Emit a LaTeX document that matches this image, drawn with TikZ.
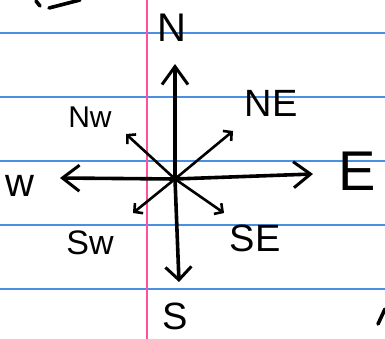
\documentclass[tikz,border=0pt]{standalone}
\usepackage{fontspec}
\setmainfont{Liberation Sans}
\usetikzlibrary{arrows.meta}
\definecolor{ruleblue}{RGB}{74,144,226}
\definecolor{marginpink}{RGB}{255,79,160}
\tikzset{
  ruling/.style={ruleblue, line width=1.3pt},
  margin/.style={marginpink, line width=1.5pt},
  ink/.style={black, line width=3.6pt, line cap=round, line join=round},
  thinink/.style={black, line width=2.6pt, line cap=round, line join=round},
  bighead/.style={-{Straight Barb[length=#1, width=26pt, line width=3pt]}},
  smallhead/.style={-{Straight Barb[length=6pt, width=13pt, line width=2.6pt]}},
  lbl/.style={inner sep=0pt, font=\fontsize{#1}{#1}\selectfont}
}
\begin{document}
\begin{tikzpicture}[x=1pt,y=-1pt]
\useasboundingbox (0,0) rectangle (385,339);
\fill[white] (0,0) rectangle (385,339);
% paper ruling
\foreach \yy in {33,97,161,225,289} \draw[ruling] (0,\yy) -- (385,\yy);
\draw[margin] (147,0) -- (147,339);
% coordinates
\coordinate (C) at (175,179);
\coordinate (Ntip) at (175,64);
\coordinate (Stip) at (179,282);
\coordinate (Wtip) at (60,178);
\coordinate (Etip) at (313,174);
\coordinate (NEtip) at (233,131);
\coordinate (NWtip) at (126,134);
\coordinate (SWtip) at (133,213);
\coordinate (SEtip) at (224,213);
% axes
\draw[ink, bighead=18pt] (C) -- (Ntip);
\draw[ink, bighead=13pt] (C) -- (Stip);
\draw[ink, bighead=17pt] (C) -- (Wtip);
\draw[ink, bighead=17pt] (C) -- (Etip);
% diagonals
\draw[thinink, smallhead] (C) -- (NEtip);
\draw[thinink, smallhead] (C) -- (NWtip);
\draw[thinink, smallhead] (C) -- (SWtip);
\draw[thinink, smallhead] (C) -- (SEtip);
% labels
\node[lbl=40] (N) at (172,28) {N};
\node[lbl=38] (NE) at (271,103) {NE};
\node[lbl=30] (NW) at (90,117) {Nw};
\node[lbl=40] (W) at (20,186) {w};
\node[lbl=56] (E) at (357,171) {E};
\node[lbl=34] (SW) at (90,243) {Sw};
\node[lbl=38] (SE) at (255,238) {SE};
\node[lbl=38] (S) at (175,316) {S};
% stray marks at the edges
\draw[ink] (36,1) -- (40,6);
\draw[ink] (49,8) -- (80,0);
\draw[ink] (378,324) -- (385,309);
\end{tikzpicture}
\end{document}
